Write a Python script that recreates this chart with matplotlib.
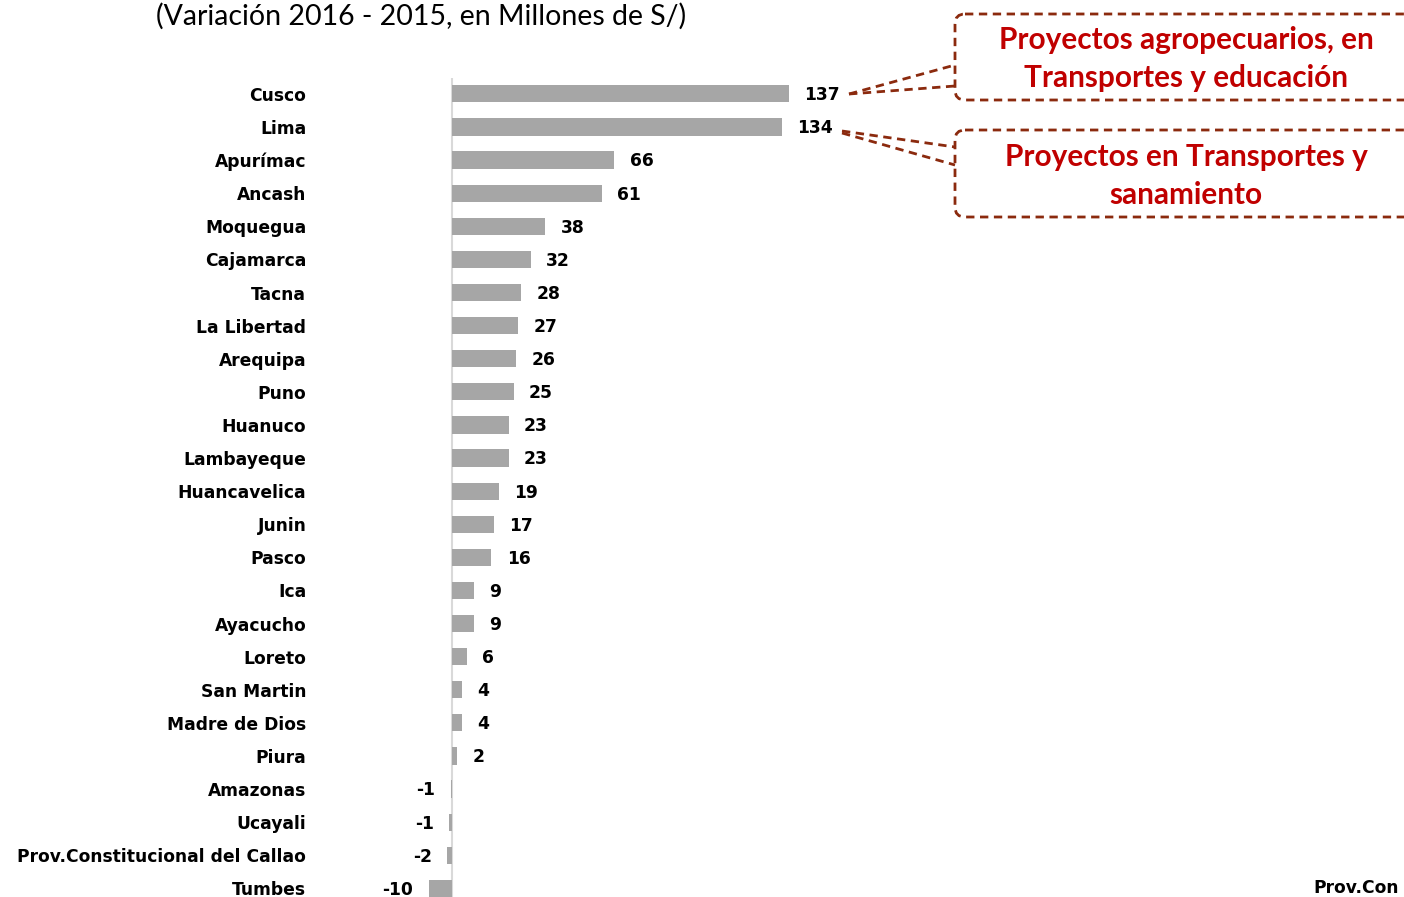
import matplotlib.pyplot as plt
from matplotlib.patches import FancyBboxPatch

plt.rcParams['font.family'] = ['DejaVu Sans']

regiones = ['Cusco', 'Lima', 'Apurímac', 'Ancash', 'Moquegua', 'Cajamarca', 'Tacna',
            'La Libertad', 'Arequipa', 'Puno', 'Huanuco', 'Lambayeque', 'Huancavelica',
            'Junin', 'Pasco', 'Ica', 'Ayacucho', 'Loreto', 'San Martin', 'Madre de Dios',
            'Piura', 'Amazonas', 'Ucayali', 'Prov.Constitucional del Callao', 'Tumbes']
variacion = [137, 134, 66, 61, 38, 32, 28, 27, 26, 25, 23, 23, 19, 17, 16, 9, 9, 6, 4, 4,
             2, -0.6, -1.2, -2, -9.5]
etiquetas = ['137', '134', '66', '61', '38', '32', '28', '27', '26', '25', '23', '23', '19',
             '17', '16', '9', '9', '6', '4', '4', '2', '-1', '-1', '-2', '-10']

W, H = 1404, 897
fig = plt.figure(figsize=(W / 100, H / 100), dpi=100)

# main axes, placed by pixel
left_px, top_px = 323, 78
ax = fig.add_axes([left_px / W, 0, 1 - left_px / W, (H - top_px) / H])
ax.barh(range(len(regiones)), variacion, height=0.52, color='#A6A6A6', zorder=2)
ax.axvline(0, color='#D9D9D9', lw=1.5, zorder=1)
ax.set_xlim((left_px - 452) / 2.46, (W - 452) / 2.46)
ax.set_ylim(24.26, -0.48)
ax.set_yticks(range(len(regiones)))
ax.set_yticklabels(regiones, fontsize=12.3, fontweight='bold')
ax.tick_params(axis='y', length=0, pad=12)
ax.set_xticks([])
for s in ax.spines.values():
    s.set_visible(False)

for i, (v, t) in enumerate(zip(variacion, etiquetas)):
    off = 11 if v >= 0 else -11
    ax.annotate(t, xy=(v, i), xytext=(off, -1), textcoords='offset points',
                ha='left' if v >= 0 else 'right', va='center',
                fontsize=12.3, fontweight='bold', annotation_clip=False)

# overlay in pixel coordinates for title and callouts
ov = fig.add_axes([0, 0, 1, 1])
ov.set_xlim(0, W)
ov.set_ylim(H, 0)
ov.axis('off')
ov.patch.set_alpha(0)

ov.text(421, 16, '(Variación 2016 - 2015, en Millones de S/)', ha='center', va='center',
        fontsize=20.5, family='Lato')

dark = '#8B2A0E'
red = '#C00000'
for (y0, y1) in [(14, 100), (130, 217)]:
    box = FancyBboxPatch((955, y0), 520, y1 - y0, boxstyle='round,pad=0,rounding_size=10',
                         fill=False, ec=dark, lw=2, ls=(0, (3, 2)))
    ov.add_patch(box)

ov.plot([849, 955], [94, 65], color=dark, lw=2, ls=(0, (3, 2)))
ov.plot([849, 955], [94, 86], color=dark, lw=2, ls=(0, (3, 2)))
ov.plot([842, 955], [131, 147], color=dark, lw=2, ls=(0, (3, 2)))
ov.plot([842, 955], [133, 165], color=dark, lw=2, ls=(0, (3, 2)))

ov.text(1186, 40, 'Proyectos agropecuarios, en', ha='center', va='center',
        fontsize=21.4, fontweight='bold', color=red, family='Lato')
ov.text(1186, 78, 'Transportes y educación', ha='center', va='center',
        fontsize=21.4, fontweight='bold', color=red, family='Lato')
ov.text(1186, 157, 'Proyectos en Transportes y', ha='center', va='center',
        fontsize=21.4, fontweight='bold', color=red, family='Lato')
ov.text(1186, 195, 'sanamiento', ha='center', va='center',
        fontsize=21.4, fontweight='bold', color=red, family='Lato')

ov.text(1313, 888, 'Prov.Con', ha='left', va='center', fontsize=12.3, fontweight='bold')

fig.savefig('out.png', dpi=100)
